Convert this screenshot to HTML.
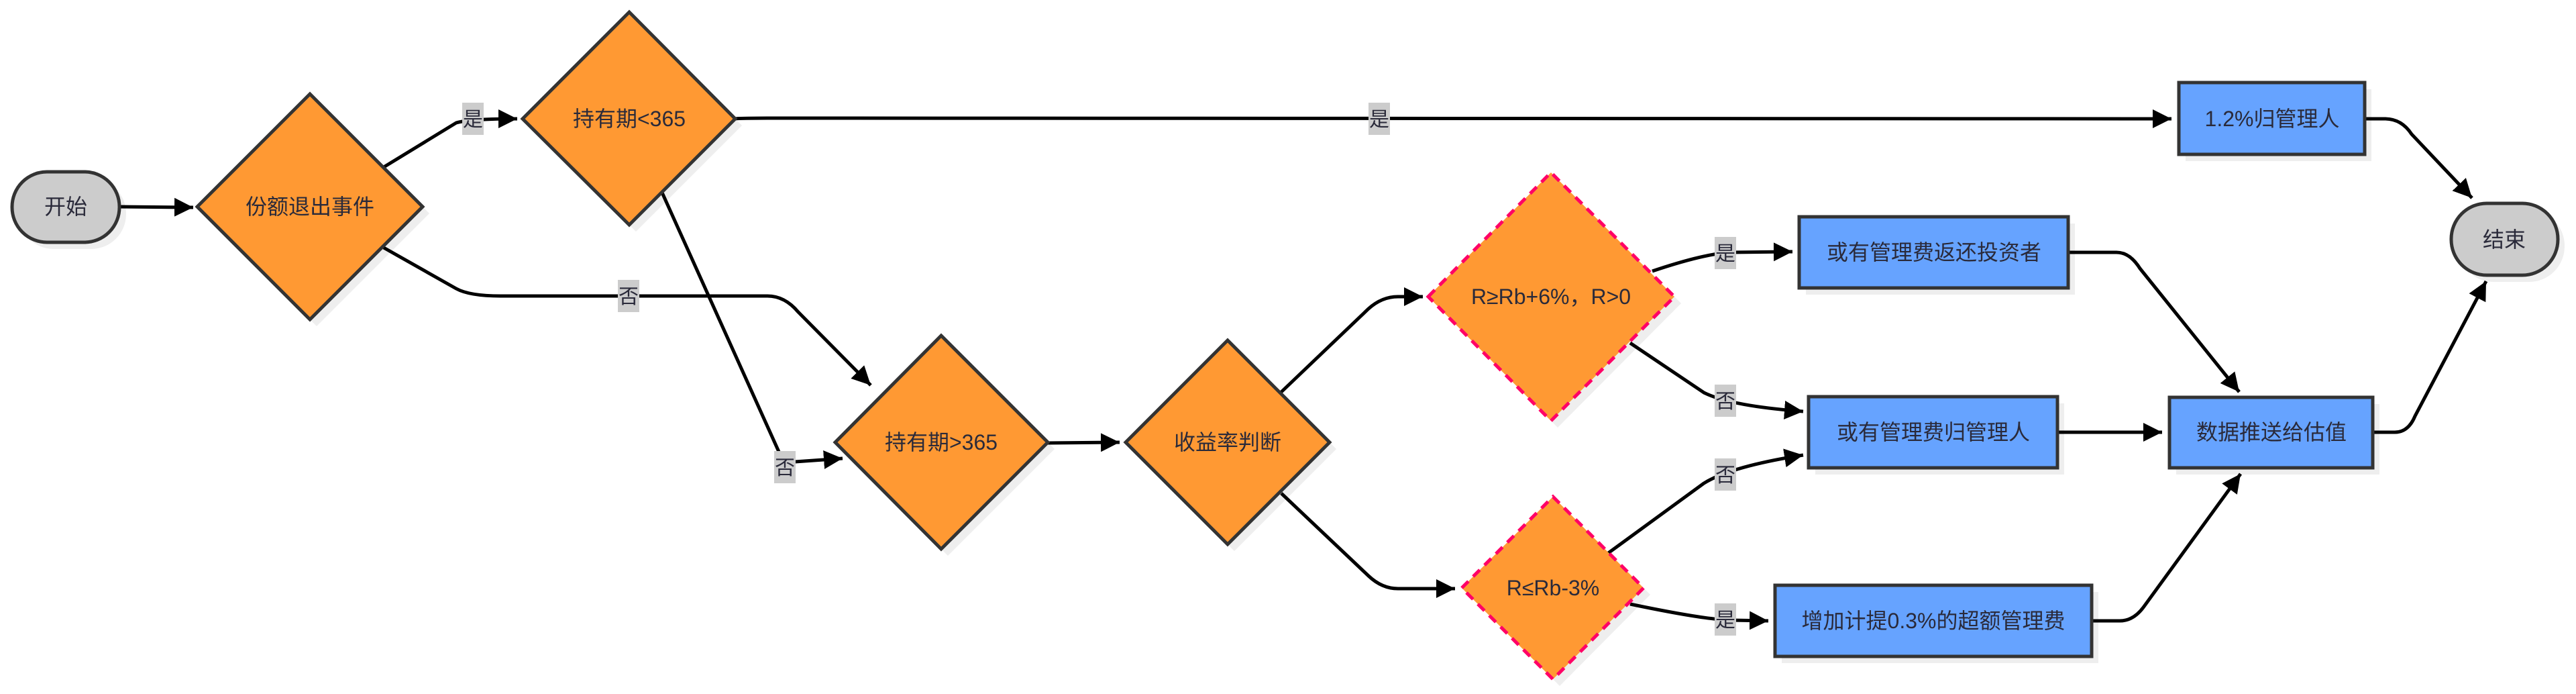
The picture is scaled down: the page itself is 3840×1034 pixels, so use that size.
<!DOCTYPE html>
<html><head><meta charset="utf-8"><style>
html,body{margin:0;padding:0;background:#fff;}
svg{display:block;}
text{font-family:"Liberation Sans","Noto Sans CJK SC",sans-serif;fill:#2a2a3a;}
</style></head><body>
<svg width="3840" height="1034" viewBox="0 0 3840 1034" xmlns="http://www.w3.org/2000/svg">
<defs>
<marker id="ar" viewBox="0 0 10 10" refX="10" refY="5" markerWidth="28" markerHeight="28" markerUnits="userSpaceOnUse" orient="auto"><path d="M0,0 L10,5 L0,10 z" fill="#000"/></marker>
</defs>
<g fill="#eeeeee">
<rect x="28" y="266" width="160" height="105" rx="52"/>
<polygon points="304,318 472,150 640,318 472,486"/>
<polygon points="789,187 948,28 1106,187 948,345"/>
<polygon points="1255,669 1413,510 1572,669 1413,828"/>
<polygon points="1688,669 1840,517 1992,669 1840,821"/>
<polygon points="2139,452 2322,267 2506,452 2322,637"/>
<polygon points="2189,886 2325,750 2460,886 2325,1022"/>
<rect x="3258" y="133" width="277" height="107"/>
<rect x="2692" y="333" width="401" height="106"/>
<rect x="2706" y="601" width="371" height="106"/>
<rect x="2656" y="882" width="472" height="106"/>
<rect x="3244" y="602" width="303" height="105"/>
<rect x="3664" y="313" width="159" height="107" rx="53"/>
</g>
<g fill="none" stroke="#000" stroke-width="5">
<path d="M178,308 L288,309" marker-end="url(#ar)"/>
<path d="M572,249 L680,183 Q700,177 771,177" marker-end="url(#ar)"/>
<path d="M572,369 L680,430 Q700,441 746,441 L1144,441 Q1170,441 1190,465 L1298,574" marker-end="url(#ar)"/>
<path d="M987,287 L1161,673 Q1170,690 1185,688 L1256,683" marker-end="url(#ar)"/>
<path d="M1096,177 Q1100,176 1160,176 L3237,177" marker-end="url(#ar)"/>
<path d="M1562,660 L1669,659" marker-end="url(#ar)"/>
<path d="M1910,584 L2040,460 Q2060,442 2084,442 L2121,442" marker-end="url(#ar)"/>
<path d="M1910,735 L2040,858 Q2060,877 2084,877 L2169,877" marker-end="url(#ar)"/>
<path d="M2463,404 Q2540,378 2580,376 L2672,375" marker-end="url(#ar)"/>
<path d="M2430,511 L2540,585 Q2580,605 2688,613" marker-end="url(#ar)"/>
<path d="M2396,825 L2540,720 Q2580,695 2688,678" marker-end="url(#ar)"/>
<path d="M2430,900 Q2540,923 2580,924 L2636,925" marker-end="url(#ar)"/>
<path d="M3525,177 L3555,177 Q3580,177 3595,200 L3685,295" marker-end="url(#ar)"/>
<path d="M3085,376 L3155,376 Q3175,376 3190,400 L3338,584" marker-end="url(#ar)"/>
<path d="M3067,644 L3223,644" marker-end="url(#ar)"/>
<path d="M3119,925 L3160,925 Q3180,925 3195,905 L3340,706" marker-end="url(#ar)"/>
<path d="M3537,644 L3570,644 Q3590,644 3600,620 L3706,419" marker-end="url(#ar)"/>
</g>
<g stroke="#333" stroke-width="5">
<rect x="18" y="256" width="160" height="105" rx="52" fill="#cccccc"/>
<polygon points="294,308 462,140 630,308 462,476" fill="#ff9933"/>
<polygon points="779,177 938,18 1096,177 938,335" fill="#ff9933"/>
<polygon points="1245,659 1403,500 1562,659 1403,818" fill="#ff9933"/>
<polygon points="1678,659 1830,507 1982,659 1830,811" fill="#ff9933"/>
<rect x="3248" y="123" width="277" height="107" fill="#66a3ff"/>
<rect x="2682" y="323" width="401" height="106" fill="#66a3ff"/>
<rect x="2696" y="591" width="371" height="106" fill="#66a3ff"/>
<rect x="2646" y="872" width="472" height="106" fill="#66a3ff"/>
<rect x="3234" y="592" width="303" height="105" fill="#66a3ff"/>
<rect x="3654" y="303" width="159" height="107" rx="53" fill="#cccccc"/>
</g>
<g stroke="#ff0066" stroke-width="5" stroke-dasharray="14,10" fill="#ff9933">
<polygon points="2129,442 2312,257 2496,442 2312,627"/>
<polygon points="2179,876 2315,740 2450,876 2315,1012"/>
</g>
<g font-size="32" text-anchor="middle">
<text x="98" y="319">开始</text>
<text x="462" y="319">份额退出事件</text>
<text x="938" y="188">持有期&lt;365</text>
<text x="1403" y="670">持有期&gt;365</text>
<text x="1830" y="670">收益率判断</text>
<text x="2312" y="453">R≥Rb+6%，R&gt;0</text>
<text x="2315" y="887">R≤Rb-3%</text>
<text x="3387" y="188">1.2%归管理人</text>
<text x="2883" y="387">或有管理费返还投资者</text>
<text x="2882" y="655">或有管理费归管理人</text>
<text x="2882" y="936">增加计提0.3%的超额管理费</text>
<text x="3386" y="655">数据推送给估值</text>
<text x="3733" y="368">结束</text>
</g>
<g fill="#cccccc">
<rect x="689" y="153" width="32" height="48"/>
<rect x="921" y="417" width="32" height="48"/>
<rect x="1154" y="672" width="32" height="48"/>
<rect x="2040" y="153" width="32" height="48"/>
<rect x="2556" y="353" width="32" height="48"/>
<rect x="2556" y="573" width="32" height="48"/>
<rect x="2556" y="683" width="32" height="48"/>
<rect x="2556" y="899" width="32" height="48"/>
</g>
<g font-size="30" text-anchor="middle">
<text x="705" y="188">是</text>
<text x="937" y="452">否</text>
<text x="1170" y="707">否</text>
<text x="2056" y="188">是</text>
<text x="2572" y="388">是</text>
<text x="2572" y="608">否</text>
<text x="2572" y="718">否</text>
<text x="2572" y="934">是</text>
</g>
</svg>
</body></html>
